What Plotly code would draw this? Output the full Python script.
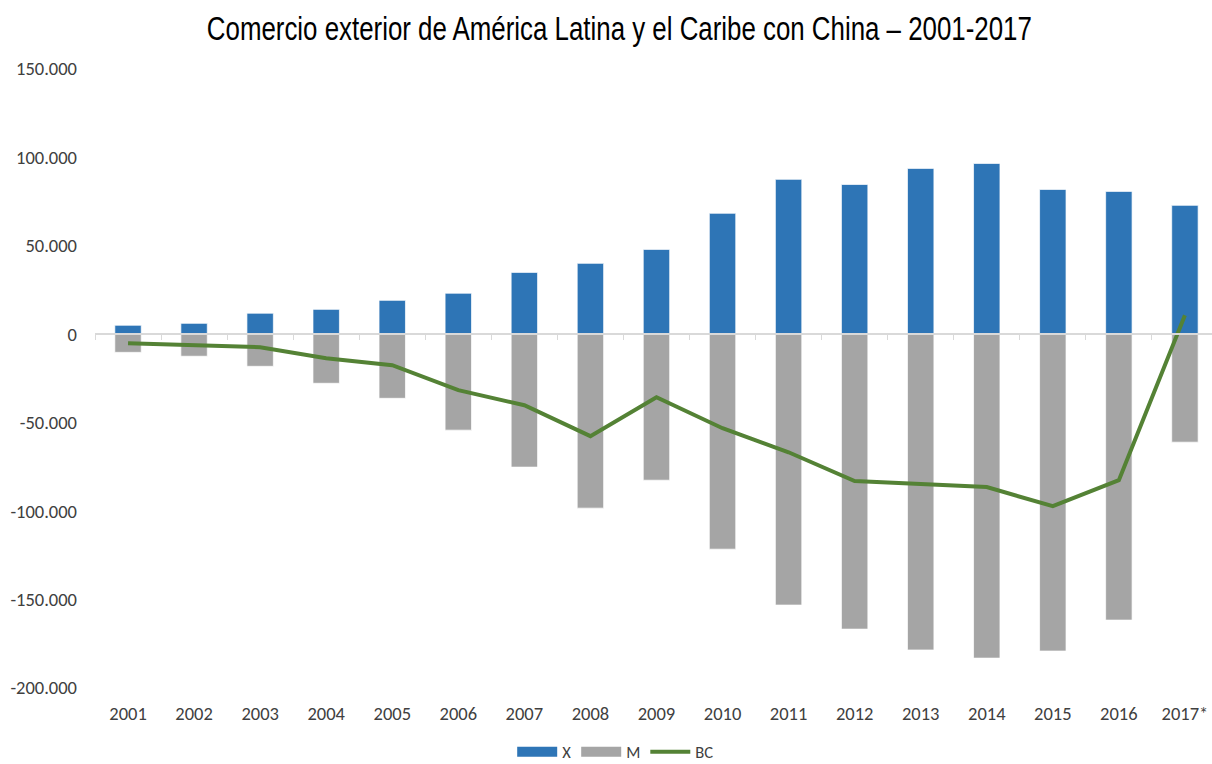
import plotly.graph_objects as go

years = ["2001", "2002", "2003", "2004", "2005", "2006", "2007", "2008", "2009",
         "2010", "2011", "2012", "2013", "2014", "2015", "2016", "2017*"]
exports_x = [5100, 6200, 11900, 14100, 19200, 23200, 35000, 40100, 48000,
             68400, 87600, 84700, 93800, 96600, 81900, 80800, 72900]
imports_m = [-10200, -12400, -18100, -27700, -36200, -54200, -75100, -98300, -82500,
             -121500, -153100, -166700, -178500, -183100, -179100, -161600, -61000]
balance_bc = [-5100, -6200, -7300, -13600, -17500, -31600, -40100, -57600, -35600,
              -53100, -66700, -83000, -84700, -86400, -97200, -82500, 10700]
y_tick_vals = [-200000, -150000, -100000, -50000, 0, 50000, 100000, 150000]
y_tick_text = ["-200.000", "-150.000", "-100.000", "-50.000", "0", "50.000", "100.000", "150.000"]

C_X, C_M, C_BC = "#2E75B6", "#A5A5A5", "#548235"
TICK_FONT = dict(family="Carlito, Lato, 'Open Sans', sans-serif", size=18.5, color="#404040")
LEG_FONT = dict(family="Carlito, Lato, 'Open Sans', sans-serif", size=16.5, color="#404040")
BAR_LINE = dict(color="rgba(255,255,255,0.7)", width=1)

fig = go.Figure()
fig.add_trace(go.Bar(x=years, y=exports_x, name="X", showlegend=False,
                     marker=dict(color=C_X, line=BAR_LINE)))
fig.add_trace(go.Bar(x=years, y=imports_m, name="M", showlegend=False,
                     marker=dict(color=C_M, line=BAR_LINE)))
fig.add_trace(go.Scatter(x=years, y=balance_bc, name="BC", mode="lines", showlegend=False,
                         line=dict(color=C_BC, width=4), xaxis="x2"))
# legend-only entries (wide swatches like the original)
fig.add_trace(go.Scatter(x=[None], y=[None], name="X", mode="lines",
                         line=dict(color=C_X, width=10)))
fig.add_trace(go.Scatter(x=[None], y=[None], name="M", mode="lines",
                         line=dict(color=C_M, width=10)))
fig.add_trace(go.Scatter(x=[None], y=[None], name="BC", mode="lines",
                         line=dict(color=C_BC, width=4)))

xr = [-0.5, 16.41]
ymin, ymax = -200000, 150000
zero_pos = (0 - ymin) / (ymax - ymin)

fig.update_layout(
    width=1212, height=764,
    paper_bgcolor="white", plot_bgcolor="white",
    margin=dict(l=95, r=0, t=69, b=76),
    barmode="relative", bargap=0.6,
    title=dict(text="Comercio exterior de América Latina y el Caribe con China – 2001-2017",
               x=0.511, xanchor="center", y=0.963, yanchor="middle",
               font=dict(family="'Liberation Sans', Arial, sans-serif", size=34, color="black")),
    xaxis=dict(type="category", categoryarray=years, range=xr, showgrid=False,
               zeroline=False, showline=False, ticks="", tickfont=TICK_FONT,
               ticklabelstandoff=12),
    xaxis2=dict(type="category", categoryarray=years, range=xr, overlaying="x",
                anchor="free", position=zero_pos, showgrid=False, zeroline=False,
                showline=True, linecolor="#d9d9d9", linewidth=1.5,
                ticks="outside", tickson="boundaries", ticklen=5, tickcolor="#d9d9d9",
                showticklabels=False),
    yaxis=dict(range=[ymin, ymax], tickvals=y_tick_vals, ticktext=y_tick_text,
               showgrid=False, zeroline=False, showline=False, ticks="",
               tickfont=TICK_FONT, ticklabelstandoff=17),
    legend=dict(orientation="h", x=0.508, xanchor="center", xref="container",
                y=1 - 752 / 764, yanchor="middle", yref="container",
                font=LEG_FONT, itemwidth=40, traceorder="normal"),
)

post = """
document.documentElement.style.margin = '0';
document.body.style.margin = '0';
document.body.style.overflow = 'hidden';
var gd = document.querySelector('.js-plotly-plot');
function squeezeTitle(){
  var t = gd.querySelector('.gtitle');
  if (t) { t.setAttribute('textLength', '825'); t.setAttribute('lengthAdjust', 'spacingAndGlyphs'); }
}
squeezeTitle();
gd.on('plotly_afterplot', squeezeTitle);
"""

fig.write_html("out.html", post_script=post, config={"displayModeBar": False})
